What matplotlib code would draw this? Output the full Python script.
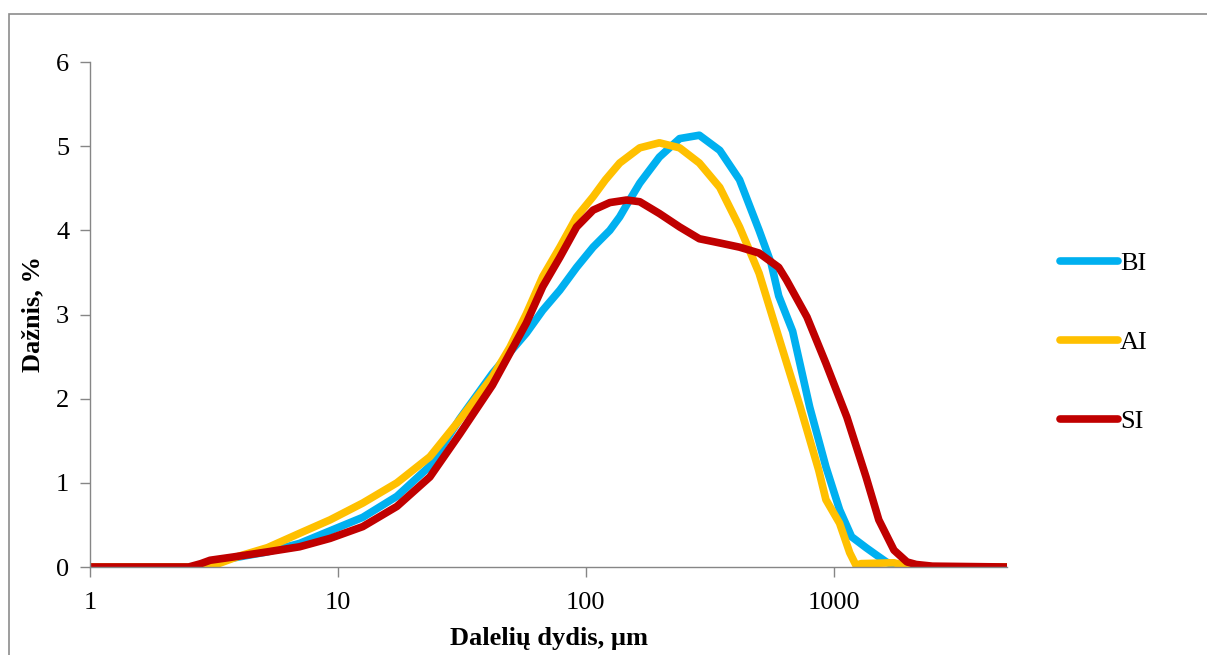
import matplotlib
matplotlib.use('Agg')
import matplotlib.pyplot as plt
from matplotlib.patches import Rectangle
from matplotlib.ticker import FixedLocator, FixedFormatter, NullLocator

# Particle size (um) and frequency (%), one pair per series
bi_x = [1, 2.6, 3.0, 4, 5.2, 7, 9.3, 12.6, 17.3, 23.5, 31, 42, 49.4, 57.6, 67,
        78.6, 91.8, 107, 125, 137, 146, 165, 198, 239, 287, 347, 417, 500, 559,
        600, 683, 800, 930, 1056, 1180, 1350, 1490, 1630, 1800, 5000]
bi_y = [0, 0, 0.05, 0.12, 0.18, 0.28, 0.43, 0.59, 0.84, 1.20, 1.76, 2.30, 2.55,
        2.78, 3.05, 3.29, 3.56, 3.80, 4.00, 4.16, 4.30, 4.56, 4.87, 5.09, 5.13,
        4.95, 4.60, 4.00, 3.61, 3.22, 2.80, 1.90, 1.19, 0.68, 0.36, 0.23, 0.14,
        0.06, 0, 0]

ai_x = [1, 2.9, 3.3, 4, 5.2, 7, 9.3, 12.6, 17.3, 23.5, 31, 42, 49.4, 57.6, 67,
        78.6, 91.8, 107, 120, 137, 165, 198, 239, 287, 347, 417, 500, 600, 733,
        870, 930, 1056, 1160, 1230, 1290, 1750, 1920, 2100, 5000]
ai_y = [0, 0, 0.04, 0.13, 0.23, 0.40, 0.56, 0.76, 1.00, 1.31, 1.75, 2.26, 2.61,
        3.01, 3.45, 3.80, 4.16, 4.40, 4.60, 4.80, 4.98, 5.04, 4.98, 4.80, 4.51,
        4.04, 3.49, 2.73, 1.90, 1.15, 0.80, 0.52, 0.17, 0.02, 0.04, 0.05, 0.02,
        0, 0]

si_x = [1, 2.5, 2.8, 3.05, 3.8, 5.2, 7, 9.3, 12.6, 17.3, 23.5, 31, 42, 49.4,
        57.6, 67, 78.6, 91.8, 107, 125, 146, 165, 198, 239, 287, 347, 417, 500,
        600, 645, 780, 930, 1130, 1350, 1520, 1750, 1975, 2150, 2500, 5000]
si_y = [0, 0, 0.04, 0.08, 0.12, 0.18, 0.24, 0.34, 0.48, 0.72, 1.07, 1.58, 2.16,
        2.54, 2.90, 3.33, 3.68, 4.04, 4.24, 4.33, 4.36, 4.34, 4.20, 4.04, 3.90,
        3.85, 3.80, 3.73, 3.56, 3.41, 2.97, 2.42, 1.78, 1.07, 0.56, 0.20, 0.06,
        0.03, 0.01, 0]

series = [('BI', bi_x, bi_y, '#00B0F0'),
          ('AI', ai_x, ai_y, '#FFC000'),
          ('SI', si_x, si_y, '#C00000')]
xticks = [1, 10, 100, 1000]
yticks = [0, 1, 2, 3, 4, 5, 6]

plt.rcParams['font.family'] = ['Liberation Serif', 'DejaVu Serif']

W, H = 1207, 655
fig = plt.figure(figsize=(W / 100, H / 100), dpi=100)
ax = fig.add_axes([90 / W, 1 - 567 / H, (1007 - 90) / W, (567 - 62) / H])

for name, xs, ys, col in series:
    ax.plot(xs, ys, color=col, lw=5.5, label=name,
            solid_capstyle='round', solid_joinstyle='round')

ax.set_xscale('log')
ax.set_xlim(1, 5000)
ax.set_ylim(0, 6)
ax.xaxis.set_major_locator(FixedLocator(xticks))
ax.xaxis.set_major_formatter(FixedFormatter([str(t) for t in xticks]))
ax.xaxis.set_minor_locator(NullLocator())
ax.set_yticks(yticks)

gray = '#868686'
for s in ['top', 'right']:
    ax.spines[s].set_visible(False)
for s in ['left', 'bottom']:
    ax.spines[s].set_color(gray)
    ax.spines[s].set_linewidth(1.0)
ax.tick_params(axis='both', colors=gray, labelcolor='black', labelsize=19,
               length=7, width=1.0, direction='out')
ax.tick_params(axis='x', pad=11)
ax.tick_params(axis='y', pad=8)

ax.set_xlabel('Dalelių dydis, µm', fontsize=19, fontweight='bold')
ax.set_ylabel('Dažnis, %', fontsize=19, fontweight='bold')
ax.xaxis.set_label_coords(0.5, -0.118)
ax.yaxis.set_label_coords(-0.050, 0.5)

leg = fig.legend(loc='upper left', bbox_to_anchor=(1036 / W, 1 - 228 / H),
                 frameon=False, fontsize=19, handlelength=2.2,
                 handletextpad=0.08, labelspacing=2.1)

# outer chart border (cut off at right and bottom)
fig.patches.append(Rectangle((9 / W, -0.1), 1.2, 1.1 - 14 / H,
                             transform=fig.transFigure, fill=False,
                             edgecolor='#8c8c8c', lw=1.2))

fig.savefig('out.png', dpi=100)
